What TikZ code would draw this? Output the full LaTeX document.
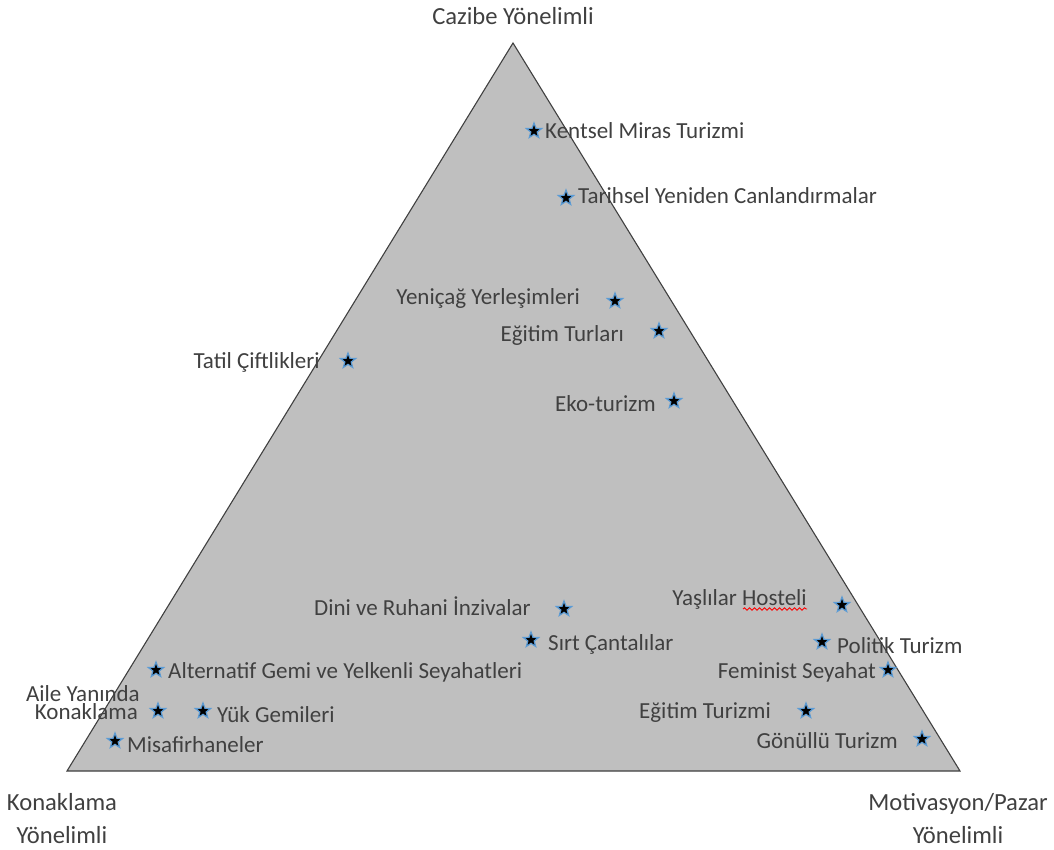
\documentclass[tikz,border=0pt]{standalone}
\usepackage{fontspec}
\setmainfont{Carlito}
\usetikzlibrary{shapes.geometric,decorations.pathmorphing}
\definecolor{txt}{HTML}{404040}
\definecolor{trifill}{HTML}{BFBFBF}
\definecolor{triline}{HTML}{404040}
\definecolor{starline}{HTML}{5B9BD5}
\tikzset{
  lbl/.style={inner sep=0pt, text=txt, font=\fontsize{23}{27}\selectfont},
  axis/.style={inner sep=0pt, text=txt, font=\fontsize{24.6}{29}\selectfont},
  mark star/.style={shape=star, star points=5, star point ratio=2.4, minimum size=16pt, inner sep=0pt, fill=black, draw=starline, line width=1.2pt},
  tri/.style={fill=trifill, draw=triline, line width=1.1pt, line join=miter},
  spell/.style={draw=red, line width=0.9pt, decorate, decoration={snake, amplitude=1.2pt, segment length=5pt}}
}
\begin{document}
\begin{tikzpicture}[x=1pt,y=-1pt]
\useasboundingbox (0,0) rectangle (1054,849);
% triangle
\coordinate (A) at (513,43);
\coordinate (L) at (67,771);
\coordinate (R) at (960,771);
\path[tri] (A) -- (R) -- (L) -- cycle;
% axis labels
\node[axis, anchor=base] (top) at (513,24) {Cazibe Yönelimli};
\node[axis, anchor=base] (bl1) at (62,810) {Konaklama};
\node[axis, anchor=base] (bl2) at (62,843) {Yönelimli};
\node[axis, anchor=base] (br1) at (958,810) {Motivasyon/Pazar};
\node[axis, anchor=base] (br2) at (958,843) {Yönelimli};
% stars
\node[mark star] (s1) at (534,131) {};
\node[mark star] (s2) at (566,198) {};
\node[mark star] (s3) at (615,301) {};
\node[mark star] (s4) at (659,331) {};
\node[mark star] (s5) at (348,361) {};
\node[mark star] (s6) at (674,401) {};
\node[mark star] (s7) at (564,609) {};
\node[mark star] (s8) at (531,640) {};
\node[mark star] (s9) at (842,605) {};
\node[mark star] (s10) at (822,642) {};
\node[mark star] (s11) at (888,670) {};
\node[mark star] (s12) at (806,711) {};
\node[mark star] (s13) at (922,739) {};
\node[mark star] (s14) at (156,670) {};
\node[mark star] (s15) at (158,711) {};
\node[mark star] (s16) at (203,711) {};
\node[mark star] (s17) at (115,741) {};
% labels
\node[lbl, anchor=base west] (t1) at (545,138) {Kentsel Miras Turizmi};
\node[lbl, anchor=base west] (t2) at (578,203) {Tarihsel Yeniden Canlandırmalar};
\node[lbl, anchor=base east] (t3) at (580,304) {Yeniçağ Yerleşimleri};
\node[lbl, anchor=base east] (t4) at (624,341) {Eğitim Turları};
\node[lbl, anchor=base east] (t5) at (320,368) {Tatil Çiftlikleri};
\node[lbl, anchor=base east] (t6) at (656,411) {Eko-turizm};
\node[lbl, anchor=base east] (t7) at (531,615) {Dini ve Ruhani İnzivalar};
\node[lbl, anchor=base west] (t8) at (548,650) {Sırt Çantalılar};
\node[lbl, anchor=base east] (t9) at (807,605) {Yaşlılar Hosteli};
\node[lbl, anchor=base west] (t10) at (837,653) {Politik Turizm};
\node[lbl, anchor=base east] (t11) at (876,678) {Feminist Seyahat};
\node[lbl, anchor=base east] (t12) at (771,718) {Eğitim Turizmi};
\node[lbl, anchor=base east] (t13) at (898,748) {Gönüllü Turizm};
\node[lbl, anchor=base west] (t14) at (168,678) {Alternatif Gemi ve Yelkenli Seyahatleri};
\node[lbl, anchor=base east] (t15a) at (140,701) {Aile Yanında};
\node[lbl, anchor=base east] (t15b) at (138,719) {Konaklama};
\node[lbl, anchor=base west] (t16) at (217,722) {Yük Gemileri};
\node[lbl, anchor=base west] (t17) at (127,752) {Misafirhaneler};
% spell-check underline
\coordinate (w1) at (743,609);
\coordinate (w2) at (807,609);
\draw[spell] (w1) -- (w2);
\end{tikzpicture}
\end{document}
